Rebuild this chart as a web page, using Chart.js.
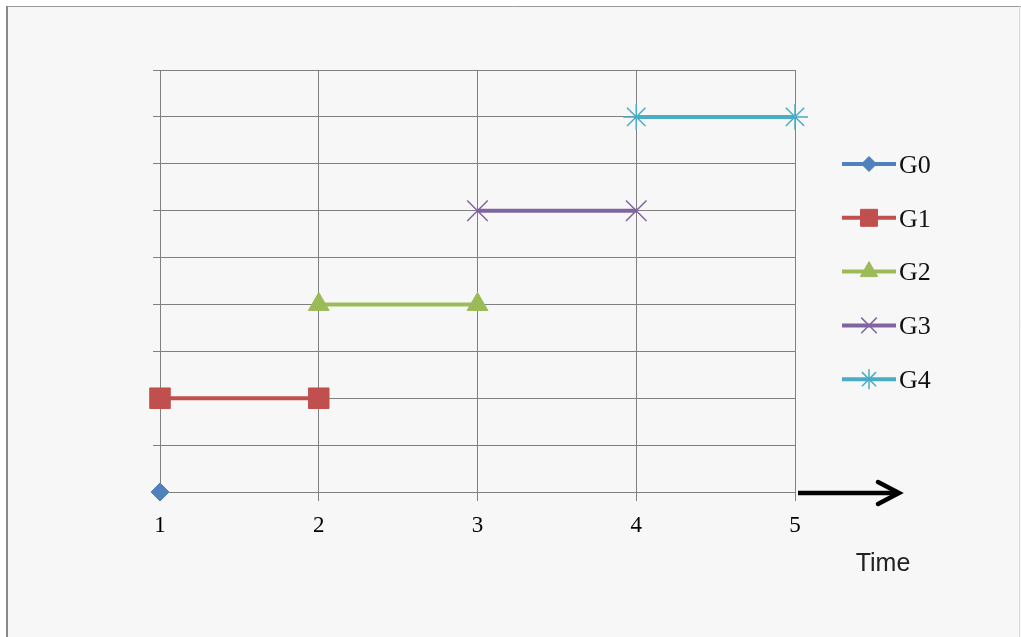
<!DOCTYPE html>
<html><head><meta charset="utf-8">
<script src="https://cdn.jsdelivr.net/npm/chart.js@4/dist/chart.umd.min.js"></script>
<style>html,body{margin:0;padding:0;background:#fff;overflow:hidden;} #wrap{position:absolute;left:0;top:0;width:1021px;height:637px;}</style>
</head><body><div id="wrap"><canvas id="c" width="1021" height="637"></canvas></div>
<script>
// ---- data ----
const xTickValues = [1, 2, 3, 4, 5];
const yMin = 0, yMax = 9;
const seriesNames = ['G0', 'G1', 'G2', 'G3', 'G4'];
const g0X = [1],    g0Y = [0];
const g1X = [1, 2], g1Y = [2, 2];
const g2X = [2, 3], g2Y = [4, 4];
const g3X = [3, 4], g3Y = [6, 6];
const g4X = [4, 5], g4Y = [8, 8];
const axisTitle = 'Time';

// ---- styles ----
const colors = ['#4F81BD', '#C0504D', '#9BBB59', '#8064A2', '#4BACC6'];
const pointStyles = ['rectRot', 'rect', 'triangle', 'crossRot', 'star'];
const pointRadii = [9, 14.5, 12, 14.5, 13];
const legendRadii = [7.5, 12, 10, 11, 10];
const gridColor = '#808080';

const xs = [g0X, g1X, g2X, g3X, g4X];
const ys = [g0Y, g1Y, g2Y, g3Y, g4Y];
const datasets = seriesNames.map((name, i) => ({
  label: name,
  data: xs[i].map((x, j) => ({x: x, y: ys[i][j]})),
  borderColor: colors[i],
  backgroundColor: colors[i],
  borderWidth: 4,
  pointStyle: pointStyles[i],
  pointRadius: pointRadii[i],
  pointHoverRadius: pointRadii[i],
  pointBackgroundColor: colors[i],
  pointBorderColor: colors[i],
  pointBorderWidth: (pointStyles[i] === 'crossRot' || pointStyles[i] === 'star') ? 1.5 : 1,
  showLine: true,
  tension: 0,
  clip: false
}));

const bgPlugin = {
  id: 'bg',
  beforeDraw(chart) {
    const ctx = chart.ctx;
    ctx.save();
    ctx.fillStyle = '#ffffff';
    ctx.fillRect(0, 0, chart.width, chart.height);
    ctx.fillStyle = '#f7f7f7';
    ctx.fillRect(6, 6, chart.width - 6, chart.height - 6);
    ctx.strokeStyle = '#9a9a9a';
    ctx.lineWidth = 1;
    ctx.beginPath(); ctx.moveTo(6, 6.5); ctx.lineTo(chart.width, 6.5); ctx.stroke();
    ctx.strokeStyle = '#888888';
    ctx.lineWidth = 2;
    ctx.beginPath(); ctx.moveTo(7, 6); ctx.lineTo(7, chart.height); ctx.stroke();
    ctx.strokeStyle = '#d8d8d8';
    ctx.lineWidth = 1;
    ctx.beginPath(); ctx.moveTo(chart.width - 1.5, 6); ctx.lineTo(chart.width - 1.5, chart.height); ctx.stroke();
    ctx.restore();
  }
};

const extrasPlugin = {
  id: 'extras',
  afterDraw(chart) {
    const ctx = chart.ctx;
    const xs_ = chart.scales.x, ys_ = chart.scales.y;
    const x0 = xs_.getPixelForValue(xTickValues[xTickValues.length - 1]);
    const yAxis = ys_.getPixelForValue(yMin);
    ctx.save();
    // arrow
    ctx.strokeStyle = '#000';
    ctx.lineWidth = 4.5;
    ctx.lineCap = 'butt';
    ctx.beginPath(); ctx.moveTo(x0 + 3, yAxis + 1); ctx.lineTo(x0 + 103, yAxis + 1); ctx.stroke();
    ctx.lineCap = 'round';
    ctx.lineJoin = 'miter';
    ctx.beginPath();
    ctx.moveTo(x0 + 83, yAxis - 10);
    ctx.lineTo(x0 + 104, yAxis + 1);
    ctx.lineTo(x0 + 83, yAxis + 12);
    ctx.stroke();
    // axis title
    ctx.fillStyle = '#222';
    ctx.font = '25px "Liberation Sans", Arial, sans-serif';
    ctx.textAlign = 'center';
    ctx.textBaseline = 'middle';
    ctx.fillText(axisTitle, x0 + 88, 564);
    // legend
    const legX1 = 842, legX2 = 896, legTop = 164, legStep = 53.8;
    chart.data.datasets.forEach((ds, i) => {
      const y = legTop + i * legStep;
      ctx.strokeStyle = ds.borderColor;
      ctx.lineWidth = 4;
      ctx.lineCap = 'butt';
      ctx.beginPath(); ctx.moveTo(legX1, y); ctx.lineTo(legX2, y); ctx.stroke();
      ctx.fillStyle = ds.backgroundColor;
      ctx.strokeStyle = ds.borderColor;
      ctx.lineWidth = ds.pointBorderWidth;
      Chart.helpers.drawPoint(ctx, {pointStyle: ds.pointStyle, radius: legendRadii[i], rotation: 0, borderWidth: ds.pointBorderWidth}, (legX1 + legX2) / 2, y);
      ctx.fillStyle = '#111';
      ctx.font = '26px "Liberation Serif", "Times New Roman", serif';
      ctx.textAlign = 'left';
      ctx.textBaseline = 'middle';
      ctx.fillText(ds.label, 899, y + 2);
    });
    ctx.restore();
  }
};

new Chart(document.getElementById('c'), {
  type: 'scatter',
  data: { datasets: datasets },
  options: {
    responsive: false,
    animation: false,
    devicePixelRatio: 1,
    layout: { padding: { left: 0, top: 70, right: 226, bottom: 0 } },
    plugins: { legend: { display: false }, tooltip: { enabled: false } },
    scales: {
      x: {
        type: 'linear',
        min: xTickValues[0],
        max: xTickValues[xTickValues.length - 1],
        afterBuildTicks(scale) { scale.ticks = xTickValues.map(v => ({value: v})); },
        afterFit(scale) { scale.height = 145; },
        grid: { color: gridColor, lineWidth: 1, tickLength: 9, drawTicks: true },
        border: { color: gridColor, width: 1 },
        ticks: {
          color: '#000',
          padding: 11,
          maxRotation: 0,
          font: { family: '"Liberation Serif", "Times New Roman", serif', size: 23 },
          callback: v => String(v)
        }
      },
      y: {
        type: 'linear',
        min: yMin,
        max: yMax,
        afterFit(scale) { scale.width = 160; },
        grid: { color: gridColor, lineWidth: 1, tickLength: 7, drawTicks: true },
        border: { color: gridColor, width: 1 },
        ticks: { stepSize: 1, callback: () => '' }
      }
    }
  },
  plugins: [bgPlugin, extrasPlugin]
});
</script></body></html>
